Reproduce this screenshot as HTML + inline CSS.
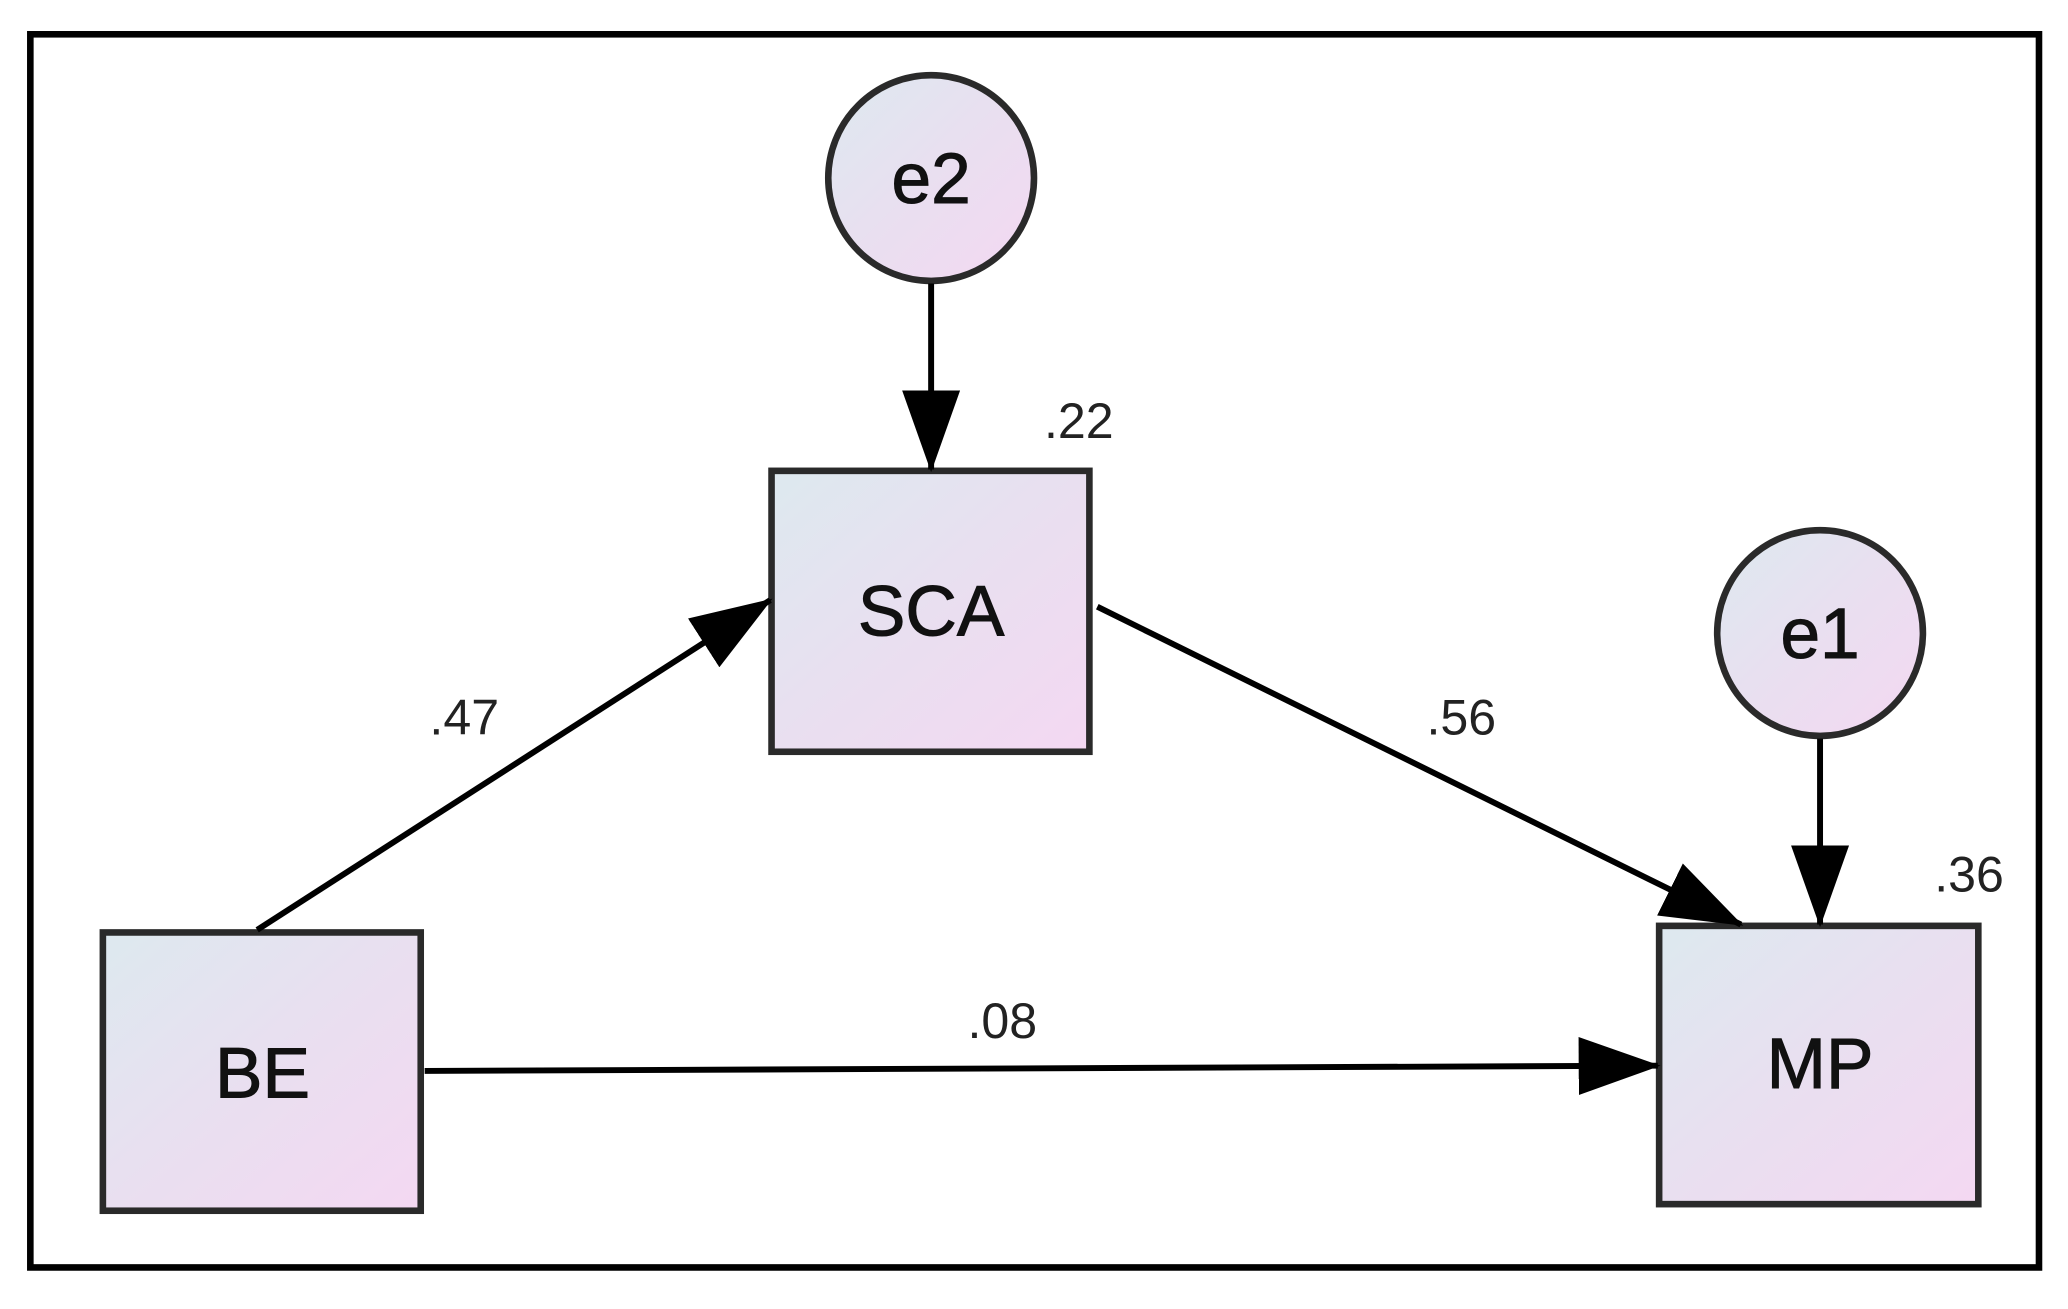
<!DOCTYPE html>
<html><head><meta charset="utf-8"><style>html,body{margin:0;padding:0;background:#fff}svg{display:block}</style></head>
<body>
<svg width="2068" height="1309" viewBox="0 0 1568 992.5" preserveAspectRatio="none" xmlns="http://www.w3.org/2000/svg">
<defs>
<linearGradient id="g" x1="0" y1="0" x2="1" y2="1">
<stop offset="0" stop-color="#dde9ef"/><stop offset="0.5" stop-color="#e9dff0"/><stop offset="1" stop-color="#f4d8f2"/>
</linearGradient>
<marker id="a" markerWidth="62" markerHeight="44" refX="60" refY="22" orient="auto" markerUnits="userSpaceOnUse">
<path d="M0,0 L62,22 L0,44 Z" fill="#000"/>
</marker>
</defs>
<rect x="0" y="0" width="1568" height="992.5" fill="#fff"/>
<rect x="23" y="26" width="1523" height="935" fill="none" stroke="#000" stroke-width="5"/>
<g stroke="#2a2a2a" stroke-width="5" fill="url(#g)">
<circle cx="706" cy="135" r="78"/>
<circle cx="1380" cy="480" r="78"/>
<rect x="585" y="357" width="241" height="213"/>
<rect x="78" y="707" width="241" height="211"/>
<rect x="1258" y="702" width="242" height="211"/>
</g>
<g stroke="#000" stroke-width="4.5" fill="none">
<line x1="706" y1="215" x2="706" y2="356" marker-end="url(#a)"/>
<line x1="1380" y1="560" x2="1380" y2="701" marker-end="url(#a)"/>
<line x1="195" y1="705" x2="584" y2="455" marker-end="url(#a)"/>
<line x1="832" y1="460" x2="1320" y2="701" marker-end="url(#a)"/>
<line x1="322" y1="812" x2="1257" y2="808" marker-end="url(#a)"/>
</g>
<g font-family="Liberation Sans, sans-serif" fill="#111" stroke="#111" stroke-width="0.8" text-anchor="middle" font-size="54">
<text x="706" y="154">e2</text>
<text x="1380" y="499">e1</text>
<text x="706" y="482">SCA</text>
<text x="199" y="832">BE</text>
<text x="1380" y="825">MP</text>
</g>
<g font-family="Liberation Sans, sans-serif" fill="#222" font-size="38" text-anchor="middle">
<text x="818" y="332">.22</text>
<text x="352" y="557">.47</text>
<text x="1108" y="557">.56</text>
<text x="1493" y="676">.36</text>
<text x="760" y="787">.08</text>
</g>
</svg>
</body></html>
